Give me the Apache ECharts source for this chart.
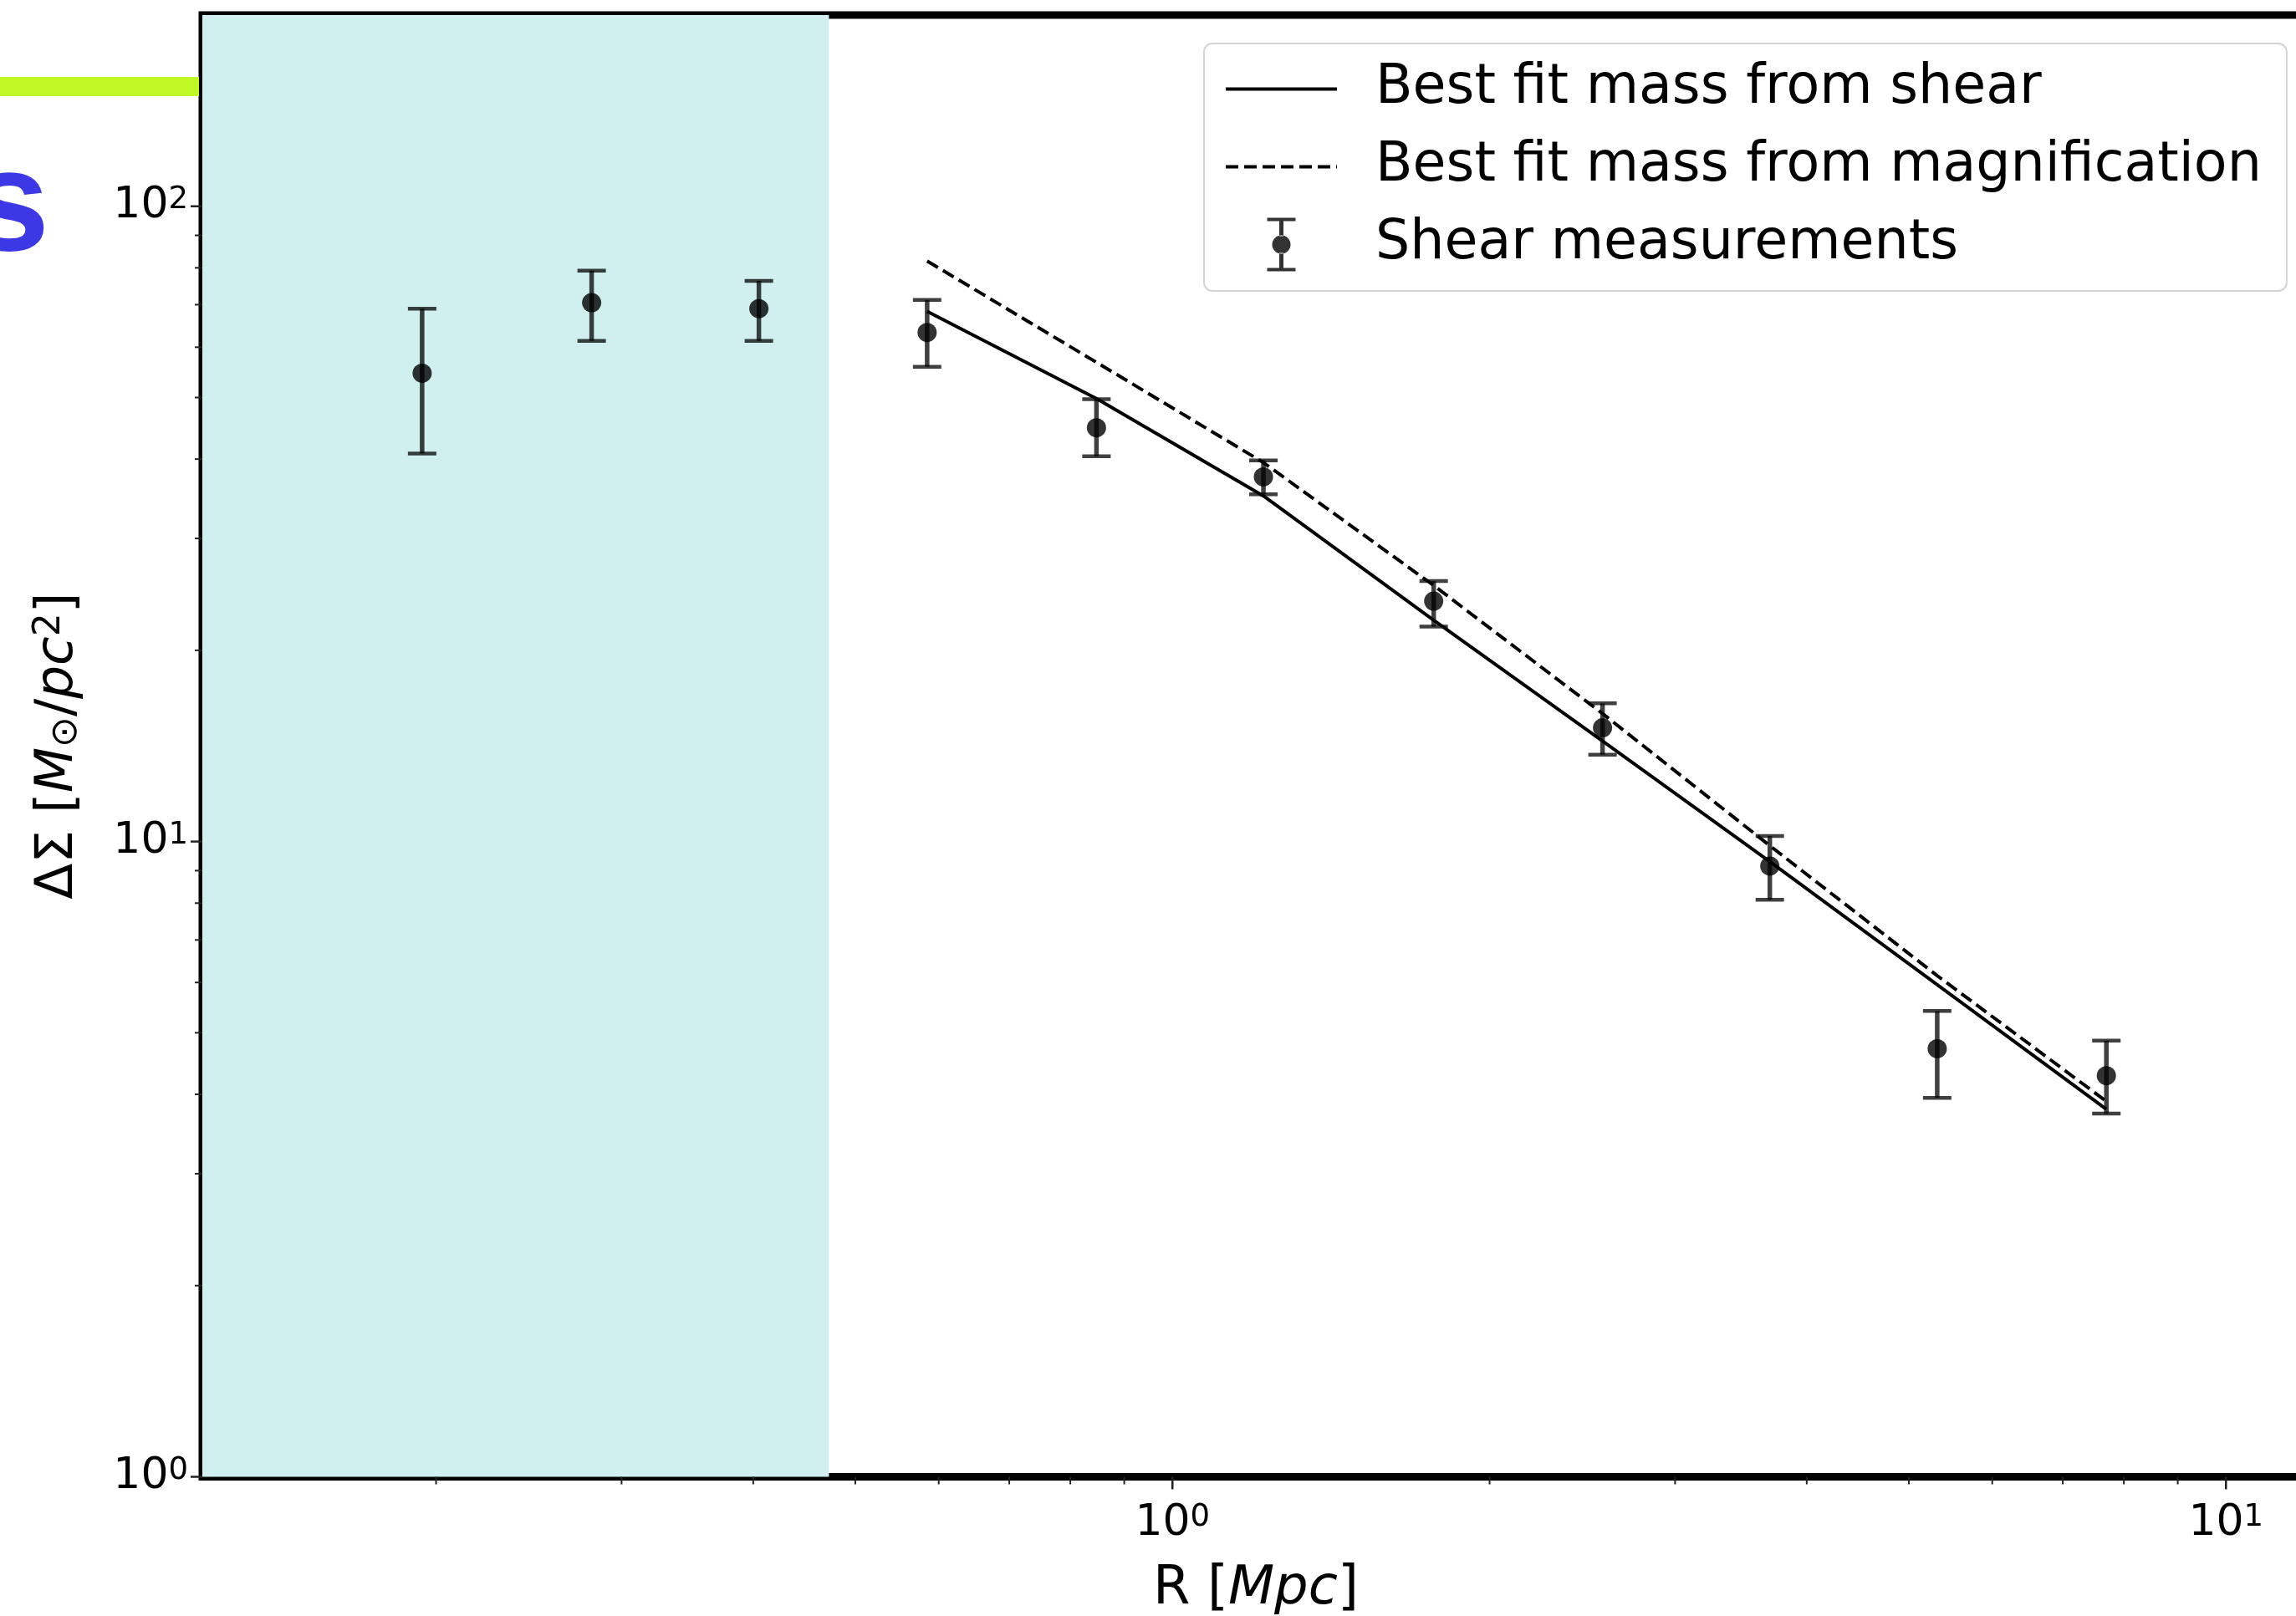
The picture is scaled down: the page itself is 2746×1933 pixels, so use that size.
<!DOCTYPE html>
<html>
<head>
<meta charset="utf-8">
<script src="https://cdn.jsdelivr.net/npm/echarts@6/dist/echarts.min.js"></script>
<style>
html,body{margin:0;padding:0;background:#fff;}
#chart{width:2746px;height:1933px;}
</style>
</head>
<body>
<div id="chart"></div>
<script>
// ---- data ----
const R          = [0.194, 0.281, 0.405, 0.585, 0.847, 1.22, 1.77, 2.56, 3.69, 5.32, 7.70];
const shear      = [54.6, 70.5, 69.0, 63.3, 44.8, 37.5, 23.9, 15.1, 9.15, 4.72, 4.28];
const shearLow   = [40.8, 61.4, 61.4, 55.9, 40.4, 35.2, 21.8, 13.7, 8.1, 3.95, 3.73];
const shearHigh  = [69.0, 79.2, 76.3, 71.2, 49.7, 39.8, 25.7, 16.5, 10.2, 5.41, 4.86];
const fitR       = [0.585, 0.847, 1.22, 1.77, 2.56, 3.69, 5.32, 7.70];
const fitShear   = [68.3, 49.8, 35.0, 22.3, 14.4, 9.3, 5.95, 3.79];
const fitMag     = [82.0, 56.8, 39.5, 25.3, 15.9, 9.85, 6.15, 3.9];
const xRange     = [0.12, 12];
const yRange     = [1, 200];
const shadeRange = [0.12, 0.472];
const xMajorTicks = [1, 10];
const xMinorTicks = [0.2, 0.3, 0.4, 0.5, 0.6, 0.7, 0.8, 0.9, 2, 3, 4, 5, 6, 7, 8, 9];
const yMajorTicks = [1, 10, 100];
const yMinorTicks = [2, 3, 4, 5, 6, 7, 8, 9, 20, 30, 40, 50, 60, 70, 80, 90];
const seriesNames = ['Best fit mass from shear', 'Best fit mass from magnification', 'Shear measurements'];

const FONT = 'DejaVu Sans';
const chart = echarts.init(document.getElementById('chart'), null, {renderer: 'canvas'});

function powLabel(v) {
  const e = Math.log10(v);
  const r = Math.round(e);
  if (Math.abs(e - r) > 1e-6) return '';
  return '{b|10}{s|' + r + '}';
}
const tickRich = {
  b: {fontFamily: FONT, fontSize: 52, lineHeight: 52, color: '#000'},
  s: {fontFamily: FONT, fontSize: 37, lineHeight: 26, verticalAlign: 'top', color: '#000'}
};

function xTick(len, w) {
  return function (params, api) {
    const p = api.coord([api.value(0), api.value(1)]);
    return {type: 'line', shape: {x1: p[0], y1: p[1], x2: p[0], y2: p[1] + len},
            style: {stroke: '#222', lineWidth: w}};
  };
}
function yTick(len, w) {
  return function (params, api) {
    const p = api.coord([api.value(0), api.value(1)]);
    return {type: 'line', shape: {x1: p[0], y1: p[1], x2: p[0] - len, y2: p[1]},
            style: {stroke: '#222', lineWidth: w}};
  };
}

const errIcon = 'path://M0,0 L34,0 L34,4 L0,4 Z M14.5,4 L19.5,4 L19.5,22 L14.5,22 Z M14.5,42 L19.5,42 L19.5,60 L14.5,60 Z M0,60 L34,60 L34,64 L0,64 Z M6,32 A11,11 0 1 0 28,32 A11,11 0 1 0 6,32 Z';
const hiddenSymbol = {color: 'rgba(0,0,0,0)', opacity: 0};

const option = {
  animation: false,
  backgroundColor: '#fff',
  grid: {left: 242, top: 18, width: 2520, height: 1748.5, show: true,
         containLabel: false, outerBoundsMode: 'none',
         borderColor: '#000', borderWidth: 9, backgroundColor: 'transparent'},
  xAxis: {
    type: 'log', logBase: 10, min: xRange[0], max: xRange[1],
    axisLine: {show: false}, axisTick: {show: false}, splitLine: {show: false}, minorTick: {show: false},
    axisLabel: {margin: 30, formatter: powLabel, rich: tickRich, fontFamily: FONT, fontSize: 52, color: '#000'},
    name: '{n|R [}{i|Mpc}{n|]}', nameLocation: 'middle', nameGap: 103,
    nameTextStyle: {rich: {
      n: {fontFamily: FONT, fontSize: 64, color: '#000'},
      i: {fontFamily: FONT, fontSize: 64, fontStyle: 'italic', color: '#000'}
    }}
  },
  yAxis: {
    type: 'log', logBase: 10, min: yRange[0], max: yRange[1],
    axisLine: {show: false}, axisTick: {show: false}, splitLine: {show: false}, minorTick: {show: false},
    axisLabel: {margin: 17, formatter: powLabel, rich: tickRich, fontFamily: FONT, fontSize: 52, color: '#000'},
    name: '{n|ΔΣ [}{i|M}{sub|⊙}{n|/}{i|pc}{sup|2}{n|]}', nameLocation: 'middle', nameRotate: 90, nameGap: 140,
    nameTextStyle: {rich: {
      n: {fontFamily: FONT, fontSize: 63, lineHeight: 64, color: '#000'},
      i: {fontFamily: FONT, fontSize: 63, lineHeight: 64, fontStyle: 'italic', color: '#000'},
      sub: {fontFamily: FONT, fontSize: 44, lineHeight: 38, verticalAlign: 'bottom', color: '#000'},
      sup: {fontFamily: FONT, fontSize: 44, lineHeight: 32, verticalAlign: 'top', color: '#000'}
    }}
  },
  legend: {
    orient: 'vertical', left: 1440, top: 52,
    padding: [22, 30, 23, 24],
    itemWidth: 133, itemHeight: 64, itemGap: 28,
    backgroundColor: '#fff', borderColor: '#d4d4d4', borderWidth: 2, borderRadius: 10,
    textStyle: {fontFamily: FONT, fontSize: 65, lineHeight: 60, color: '#000', padding: [0, 0, 0, 41]},
    lineStyle: {width: 4},
    selectedMode: false,
    data: [
      {name: seriesNames[0], itemStyle: hiddenSymbol},
      {name: seriesNames[1], itemStyle: hiddenSymbol},
      {name: seriesNames[2], icon: errIcon}
    ]
  },
  graphic: [
    {type: 'rect', shape: {x: 0, y: 92, width: 238, height: 23}, style: {fill: '#c0f826'}, z: 0},
    {type: 'text', x: -37, y: 251, style: {text: 's', font: 'bold 173px "Liberation Sans"', fill: '#3c38e6', verticalAlign: 'middle'}, z: 0}
  ],
  series: [
    {
      name: 'shade', type: 'custom', z: 1, silent: true,
      data: [[shadeRange[0], shadeRange[1]]],
      renderItem: function (params, api) {
        const p0 = api.coord([api.value(0), yRange[1]]);
        const p1 = api.coord([api.value(1), yRange[0]]);
        return {type: 'rect', shape: {x: p0[0], y: p0[1], width: p1[0] - p0[0], height: p1[1] - p0[1]},
                style: {fill: '#d0f0f0'}};
      }
    },
    {
      name: seriesNames[0], type: 'line', z: 3, symbol: 'none', showSymbol: false,
      lineStyle: {color: '#000', width: 4},
      itemStyle: {color: '#000'},
      data: fitR.map((r, i) => [r, fitShear[i]])
    },
    {
      name: seriesNames[1], type: 'line', z: 3, symbol: 'none', showSymbol: false,
      lineStyle: {color: '#000', width: 4, type: [15, 7]},
      itemStyle: {color: '#000'},
      data: fitR.map((r, i) => [r, fitMag[i]])
    },
    {
      name: 'errorbars', type: 'custom', z: 4, silent: true,
      data: R.map((r, i) => [r, shearLow[i], shearHigh[i]]),
      renderItem: function (params, api) {
        const lo = api.coord([api.value(0), api.value(1)]);
        const hi = api.coord([api.value(0), api.value(2)]);
        const col = 'rgba(0,0,0,0.75)';
        const cw = 17;
        return {type: 'group', children: [
          {type: 'line', shape: {x1: lo[0], y1: lo[1], x2: hi[0], y2: hi[1]}, style: {stroke: col, lineWidth: 5.5}},
          {type: 'line', shape: {x1: lo[0] - cw, y1: lo[1], x2: lo[0] + cw, y2: lo[1]}, style: {stroke: col, lineWidth: 4.5}},
          {type: 'line', shape: {x1: hi[0] - cw, y1: hi[1], x2: hi[0] + cw, y2: hi[1]}, style: {stroke: col, lineWidth: 4.5}}
        ]};
      }
    },
    {
      name: seriesNames[2], type: 'scatter', z: 5, symbol: 'circle', symbolSize: 23,
      itemStyle: {color: '#000'},
      data: R.map((r, i) => [r, shear[i]])
    },
    {name: 'xmajor', type: 'custom', z: 6, silent: true, data: xMajorTicks.map(v => [v, yRange[0]]), renderItem: xTick(15, 2.5)},
    {name: 'xminor', type: 'custom', z: 6, silent: true, data: xMinorTicks.map(v => [v, yRange[0]]), renderItem: xTick(9, 2)},
    {name: 'ymajor', type: 'custom', z: 6, silent: true, data: yMajorTicks.map(v => [xRange[0], v]), renderItem: yTick(14, 2.5)},
    {name: 'yminor', type: 'custom', z: 6, silent: true, data: yMinorTicks.map(v => [xRange[0], v]), renderItem: yTick(9, 2)}
  ]
};
chart.setOption(option);
</script>
</body>
</html>
